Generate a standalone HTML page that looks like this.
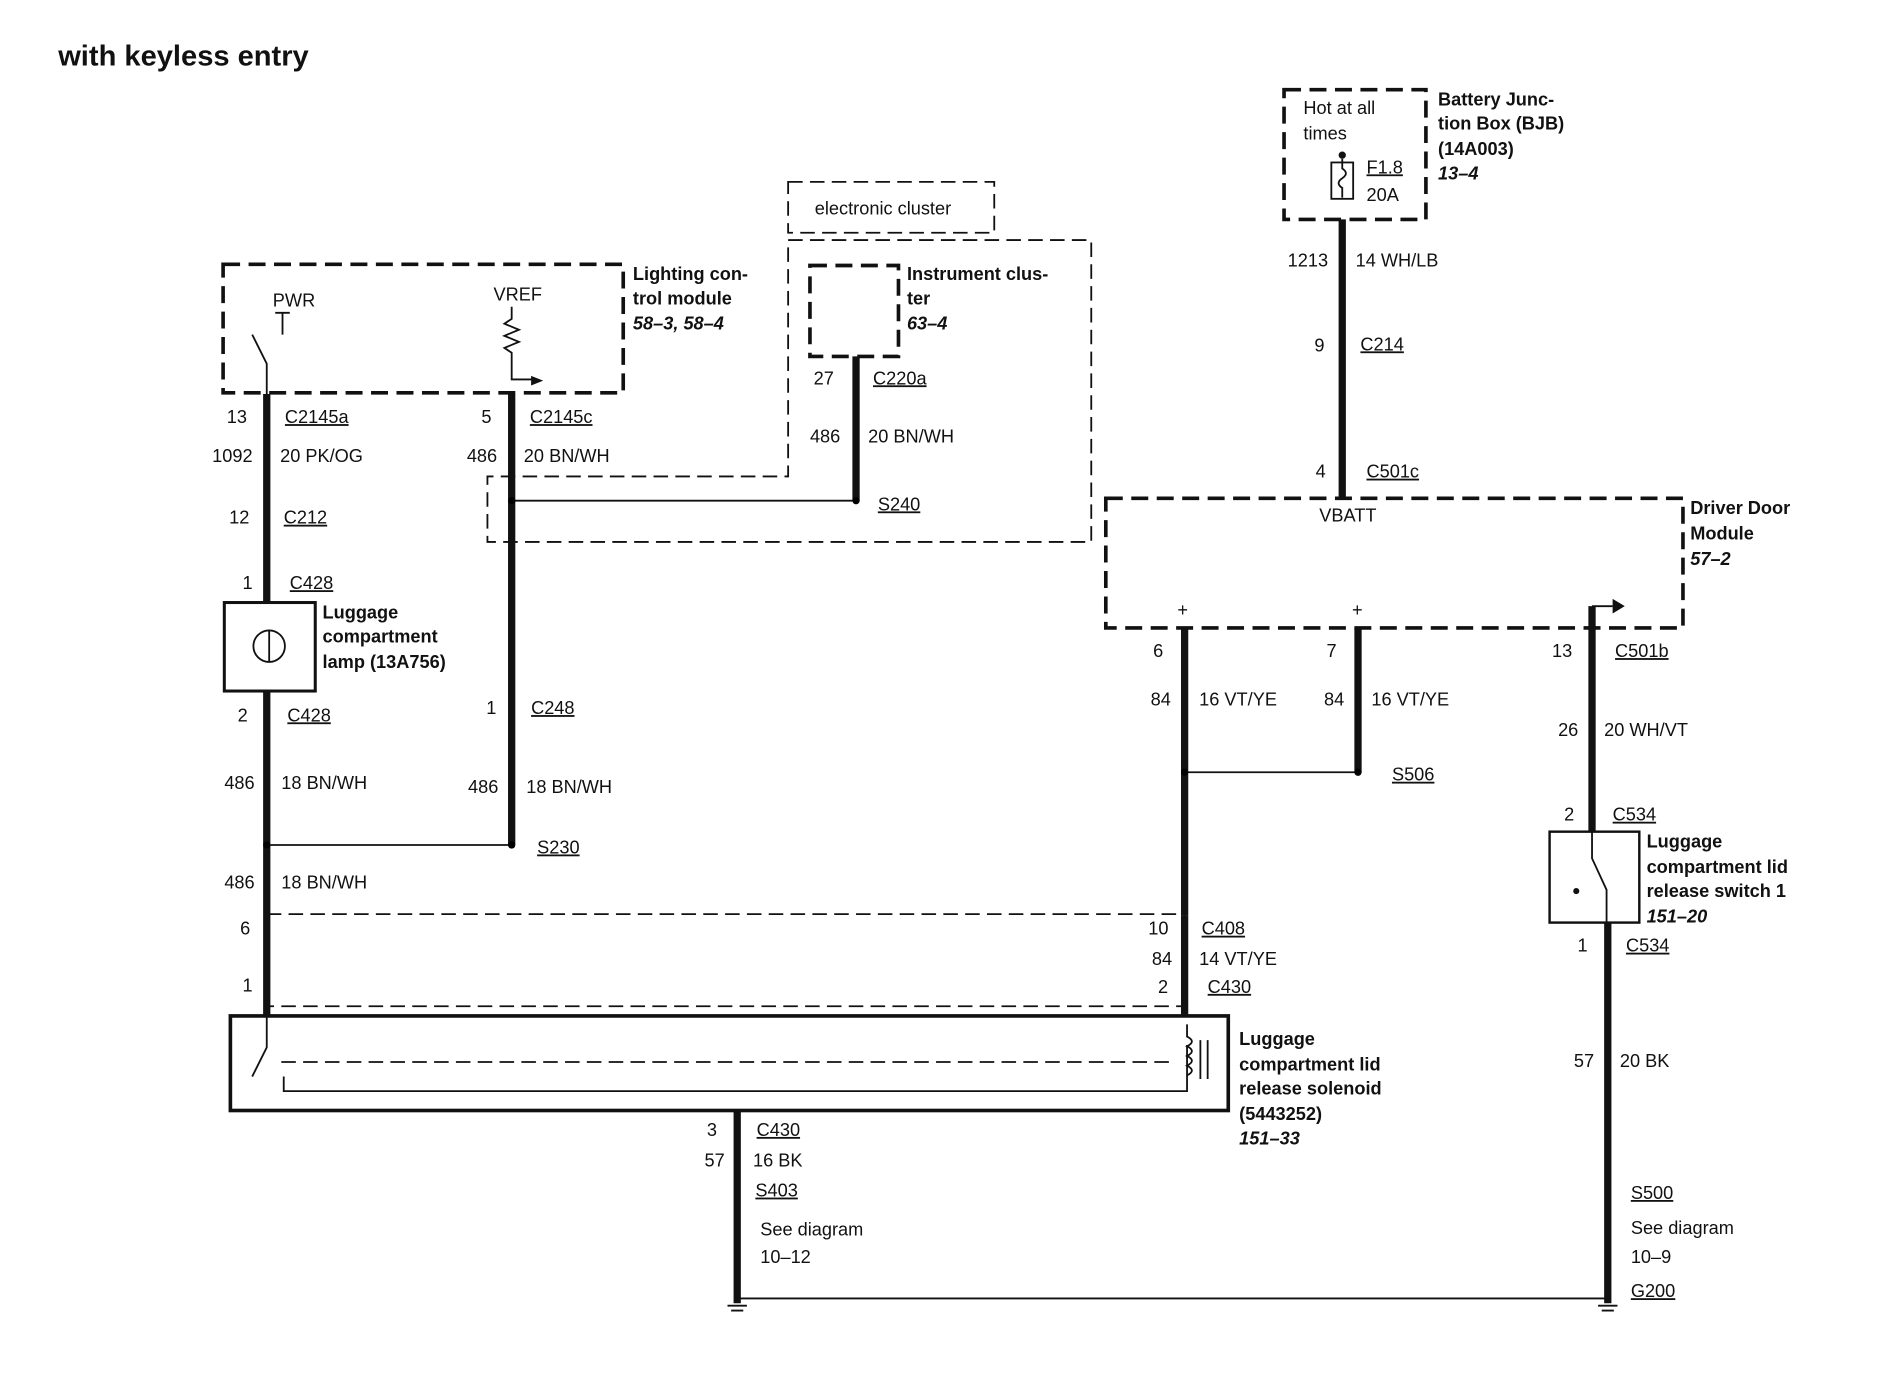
<!DOCTYPE html>
<html><head><meta charset="utf-8"><style>
html,body{margin:0;padding:0;background:#fff}
svg{display:block}
text{font-family:"Liberation Sans",Arial,sans-serif;font-size:15px;fill:#111}
.b{font-weight:bold}
.i{font-weight:bold;font-style:italic}
.u{text-decoration:underline}
.w{stroke:#111;stroke-width:6;fill:none}
.t{stroke:#111;stroke-width:1.5;fill:none}
.d{stroke:#111;stroke-width:3;fill:none;stroke-dasharray:14 7}
.dt{stroke:#111;stroke-width:1.5;fill:none;stroke-dasharray:12 6}
</style></head><body>
<svg width="1900" height="1376" viewBox="0 0 1567 1135" preserveAspectRatio="none" xmlns="http://www.w3.org/2000/svg">
<text x="48" y="54" class="b" style="font-size:24px">with keyless entry</text>

<!-- BJB -->
<rect x="1059" y="74" width="117" height="107" class="d"/>
<text x="1075" y="94">Hot at all</text><text x="1075" y="115">times</text>
<rect x="1098" y="134" width="18" height="30" class="t"/>
<circle cx="1107" cy="128" r="3" fill="#111"/>
<path d="M1107 131v8 q6 4 0 8 q-6 4 0 8v8" class="t"/>
<text x="1127" y="143" class="u">F1.8</text><text x="1127" y="166">20A</text>
<text x="1186" y="87" class="b">Battery Junc-</text><text x="1186" y="107" class="b">tion Box (BJB)</text>
<text x="1186" y="128" class="b">(14A003)</text><text x="1186" y="148" class="i">13–4</text>
<path d="M1107 181V410" class="w"/>
<text x="1062" y="220">1213</text><text x="1118" y="220">14 WH/LB</text>
<text x="1084" y="290">9</text><text x="1122" y="289" class="u">C214</text>
<text x="1085" y="394">4</text><text x="1127" y="394" class="u">C501c</text>

<!-- DDM -->
<rect x="912" y="411" width="476" height="107" class="d"/>
<text x="1088" y="430">VBATT</text>
<text x="1394" y="424" class="b">Driver Door</text><text x="1394" y="445" class="b">Module</text><text x="1394" y="466" class="i">57–2</text>
<text x="971" y="508">+</text><text x="1115" y="508">+</text>
<path d="M977 518V755M1120 518V637" class="w"/>
<path d="M977 637H1120" class="t"/><circle cx="977" cy="637" r="3"/><circle cx="1120" cy="637" r="3"/>
<text x="951" y="542">6</text><text x="1094" y="542">7</text>
<text x="949" y="582">84</text><text x="989" y="582">16 VT/YE</text>
<text x="1092" y="582">84</text><text x="1131" y="582">16 VT/YE</text>
<text x="1148" y="644" class="u">S506</text>
<path d="M1313 500H1330" class="t"/><path d="M1330 494l10 6-10 6z" fill="#111"/>
<path d="M1313 500V686" class="w"/>
<text x="1280" y="542">13</text><text x="1332" y="542" class="u">C501b</text>
<text x="1285" y="607">26</text><text x="1323" y="607">20 WH/VT</text>
<text x="1290" y="677">2</text><text x="1330" y="677" class="u">C534</text>
<rect x="1278" y="686" width="74" height="75" class="t" style="stroke-width:2"/>
<circle cx="1300" cy="735" r="2.5" fill="#111"/><path d="M1313 686v22l12 26v27" class="t"/>
<text x="1358" y="699" class="b">Luggage</text><text x="1358" y="720" class="b">compartment lid</text>
<text x="1358" y="740" class="b">release switch 1</text><text x="1358" y="761" class="i">151–20</text>
<path d="M1326 761V1075" class="w"/>
<text x="1301" y="785">1</text><text x="1341" y="785" class="u">C534</text>
<text x="1298" y="880">57</text><text x="1336" y="880">20 BK</text>
<text x="1345" y="989" class="u">S500</text><text x="1345" y="1018">See diagram</text>
<text x="1345" y="1042">10–9</text><text x="1345" y="1070" class="u">G200</text>

<!-- ground -->
<path d="M608 1071H1326" class="t"/>
<path d="M600 1077h16M603 1081h10M1318 1077h16M1321 1081h10" class="t"/>
<path d="M608 916V1075" class="w"/>
<text x="583" y="937">3</text><text x="624" y="937" class="u">C430</text>
<text x="581" y="962">57</text><text x="621" y="962">16 BK</text>
<text x="623" y="987" class="u">S403</text><text x="627" y="1019">See diagram</text><text x="627" y="1042">10–12</text>

<!-- solenoid -->
<rect x="190" y="838" width="823" height="78" fill="none" stroke="#111" stroke-width="3"/>
<path d="M220 838v26l-12 24M234 888v12H979V862" class="t"/>
<path d="M232 876H970" class="dt"/>
<path d="M979 845v10 q8 4 0 8 q8 4 0 8 q8 4 0 8 q8 4 0 8" class="t"/>
<path d="M990 858v32M996 858v32" class="t"/>
<text x="1022" y="862" class="b">Luggage</text><text x="1022" y="883" class="b">compartment lid</text>
<text x="1022" y="903" class="b">release solenoid</text><text x="1022" y="924" class="b">(5443252)</text>
<text x="1022" y="944" class="i">151–33</text>

<rect x="220" y="754" width="757" height="76" class="dt"/>
<path d="M977 755V838" class="w"/>
<text x="947" y="771">10</text><text x="991" y="771" class="u">C408</text>
<text x="950" y="796">84</text><text x="989" y="796">14 VT/YE</text>
<text x="955" y="819">2</text><text x="996" y="819" class="u">C430</text>

<!-- left -->
<rect x="184" y="218" width="330" height="106" class="d"/>
<text x="225" y="253">PWR</text><text x="407" y="248">VREF</text>
<path d="M233 258v18M227 258h12M208 276l12 24v25" class="t"/>
<path d="M422 253v10 l-6 4 12 5-12 5 12 5-12 5 6 4v22H440" class="t"/><path d="M438 310l10 4-10 4z" fill="#111"/>
<text x="522" y="231" class="b">Lighting con-</text><text x="522" y="251" class="b">trol module</text><text x="522" y="272" class="i">58–3, 58–4</text>
<path d="M220 325V497M220 570V838M422 325V697" class="w"/>
<text x="187" y="349">13</text><text x="235" y="349" class="u">C2145a</text>
<text x="175" y="381">1092</text><text x="231" y="381">20 PK/OG</text>
<text x="189" y="432">12</text><text x="234" y="432" class="u">C212</text>
<text x="200" y="486">1</text><text x="239" y="486" class="u">C428</text>
<rect x="185" y="497" width="75" height="73" fill="none" stroke="#111" stroke-width="2.5"/>
<circle cx="222" cy="533" r="13" class="t"/><path d="M222 520v26" class="t"/>
<text x="266" y="510" class="b">Luggage</text><text x="266" y="530" class="b">compartment</text><text x="266" y="551" class="b">lamp (13A756)</text>
<text x="196" y="595">2</text><text x="237" y="595" class="u">C428</text>
<text x="185" y="651">486</text><text x="232" y="651">18 BN/WH</text>
<path d="M220 697H422" class="t"/><circle cx="220" cy="697" r="3"/><circle cx="422" cy="697" r="3"/>
<text x="443" y="704" class="u">S230</text>
<text x="185" y="733">486</text><text x="232" y="733">18 BN/WH</text>
<text x="198" y="771">6</text><text x="200" y="818">1</text>
<text x="397" y="349">5</text><text x="437" y="349" class="u">C2145c</text>
<text x="385" y="381">486</text><text x="432" y="381">20 BN/WH</text>
<text x="401" y="589">1</text><text x="438" y="589" class="u">C248</text>
<text x="386" y="654">486</text><text x="434" y="654">18 BN/WH</text>

<!-- cluster -->
<rect x="650" y="150" width="170" height="42" class="dt"/>
<text x="672" y="177">electronic cluster</text>
<path d="M650 198H900V447H402V393H650Z" class="dt"/>
<rect x="668" y="219" width="73" height="75" class="d"/>
<text x="748" y="231" class="b">Instrument clus-</text><text x="748" y="251" class="b">ter</text><text x="748" y="272" class="i">63–4</text>
<path d="M706 294V413" class="w"/>
<path d="M422 413H706" class="t"/><circle cx="706" cy="413" r="3"/><circle cx="422" cy="413" r="3"/>
<text x="671" y="317">27</text><text x="720" y="317" class="u">C220a</text>
<text x="668" y="365">486</text><text x="716" y="365">20 BN/WH</text>
<text x="724" y="421" class="u">S240</text>
</svg>
</body></html>
